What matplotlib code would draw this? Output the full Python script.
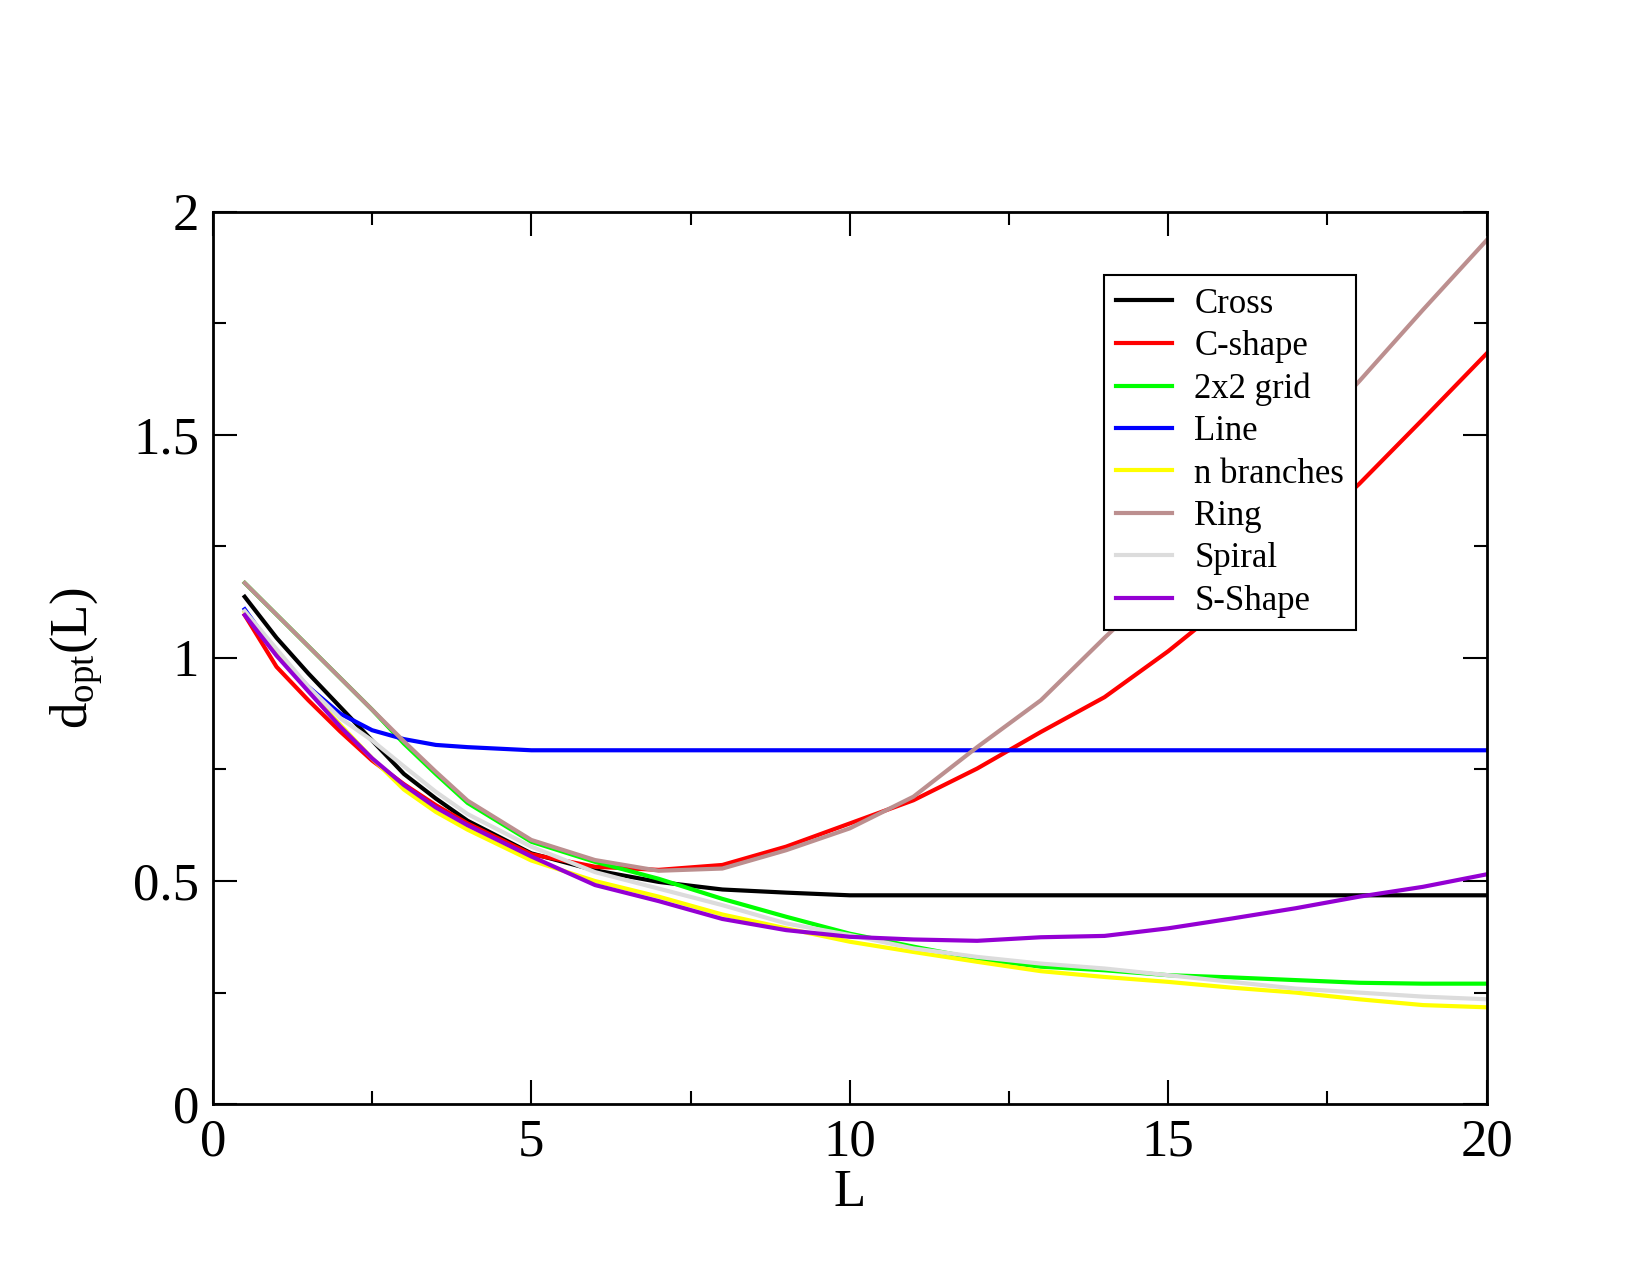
import numpy as np
import matplotlib
matplotlib.use("Agg")
import matplotlib.pyplot as plt

plt.rcParams['font.family'] = ['Liberation Serif', 'DejaVu Serif']
plt.rcParams['mathtext.fontset'] = 'custom'
plt.rcParams['mathtext.rm'] = 'Liberation Serif'
plt.rcParams['mathtext.it'] = 'Liberation Serif'

L = [0.5, 1, 1.5, 2, 2.5, 3, 3.5, 4, 5, 6, 7, 8, 9, 10,
     11, 12, 13, 14, 15, 16, 17, 18, 19, 20]

cross = [1.137, 1.045, 0.965, 0.89, 0.815, 0.74, 0.685, 0.635, 0.562, 0.524,
         0.498, 0.481, 0.474, 0.468, 0.468, 0.468, 0.468, 0.468, 0.468, 0.468,
         0.468, 0.468, 0.468, 0.468]
c_shape = [1.096, 0.98, 0.905, 0.835, 0.77, 0.717, 0.67, 0.629, 0.56, 0.532,
           0.525, 0.536, 0.577, 0.629, 0.681, 0.752, 0.834, 0.912, 1.015, 1.13,
           1.26, 1.39, 1.535, 1.682]
grid2x2 = [1.168, 1.097, 1.026, 0.955, 0.884, 0.808, 0.74, 0.675, 0.588, 0.543,
           0.505, 0.46, 0.42, 0.382, 0.353, 0.326, 0.308, 0.300, 0.289, 0.284,
           0.278, 0.272, 0.27, 0.27]
line = [1.109, 1.01, 0.935, 0.875, 0.838, 0.818, 0.805, 0.80, 0.793, 0.793,
        0.793, 0.793, 0.793, 0.793, 0.793, 0.793, 0.793, 0.793, 0.793, 0.793,
        0.793, 0.793, 0.793, 0.793]
n_branches = [1.103, 1.01, 0.928, 0.85, 0.775, 0.705, 0.655, 0.615, 0.546, 0.50,
              0.465, 0.425, 0.394, 0.364, 0.341, 0.319, 0.298, 0.285, 0.274, 0.261,
              0.25, 0.235, 0.222, 0.217]
ring = [1.168, 1.097, 1.026, 0.955, 0.884, 0.813, 0.745, 0.68, 0.592, 0.547,
        0.523, 0.528, 0.569, 0.618, 0.689, 0.80, 0.905, 1.045, 1.18, 1.32,
        1.47, 1.62, 1.78, 1.936]
spiral = [1.105, 1.02, 0.935, 0.865, 0.815, 0.757, 0.70, 0.65, 0.577, 0.52,
          0.483, 0.446, 0.405, 0.379, 0.349, 0.33, 0.315, 0.304, 0.289, 0.274,
          0.259, 0.25, 0.241, 0.235]
s_shape = [1.096, 1.005, 0.925, 0.846, 0.775, 0.715, 0.665, 0.625, 0.555, 0.491,
           0.455, 0.415, 0.39, 0.375, 0.369, 0.366, 0.374, 0.377, 0.394, 0.416,
           0.439, 0.465, 0.487, 0.515]

names = ['Cross', 'C-shape', '2x2 grid', 'Line', 'n branches', 'Ring', 'Spiral', 'S-Shape']
series = [cross, c_shape, grid2x2, line, n_branches, ring, spiral, s_shape]
colors = ['#000000', '#ff0000', '#00ff00', '#0000ff', '#ffff00', '#bc8f8f', '#dcdcdc', '#9400d3']

fig = plt.figure(figsize=(16.5, 12.75), dpi=100)
ax = fig.add_axes([0.129, 0.134, 0.772, 0.700])

for name, vals, c in zip(names, series, colors):
    ax.plot(L, vals, color=c, lw=3, label=name)

ax.set_xlim(0, 20)
ax.set_ylim(0, 2)
ax.set_xticks([0, 5, 10, 15, 20])
ax.set_xticks([2.5, 7.5, 12.5, 17.5], minor=True)
ax.set_yticks([0, 0.5, 1, 1.5, 2])
ax.set_yticks([0.25, 0.75, 1.25, 1.75], minor=True)
ax.set_xticklabels(['0', '5', '10', '15', '20'])
ax.set_yticklabels(['0', '0.5', '1', '1.5', '2'])
ax.tick_params(which='both', direction='in', top=True, right=True, width=1.5)
ax.tick_params(which='major', length=17, labelsize=38, pad=10)
ax.tick_params(which='minor', length=9.5)
for s in ax.spines.values():
    s.set_linewidth(2)

ax.set_xlabel('L', fontsize=38, labelpad=2)
ax.set_ylabel(r'$\mathrm{d_{opt}(L)}$', fontsize=38, labelpad=20)

leg = ax.legend(loc='upper left', bbox_to_anchor=(0.669, 0.784), bbox_transform=fig.transFigure,
                borderaxespad=0, fontsize=25, frameon=True, fancybox=False, framealpha=1,
                handlelength=1.6, handletextpad=0.65, labelspacing=0.27, borderpad=0.35)
leg.get_frame().set_edgecolor('black')
leg.get_frame().set_linewidth(1.5)

fig.savefig('out.png', dpi=100)
